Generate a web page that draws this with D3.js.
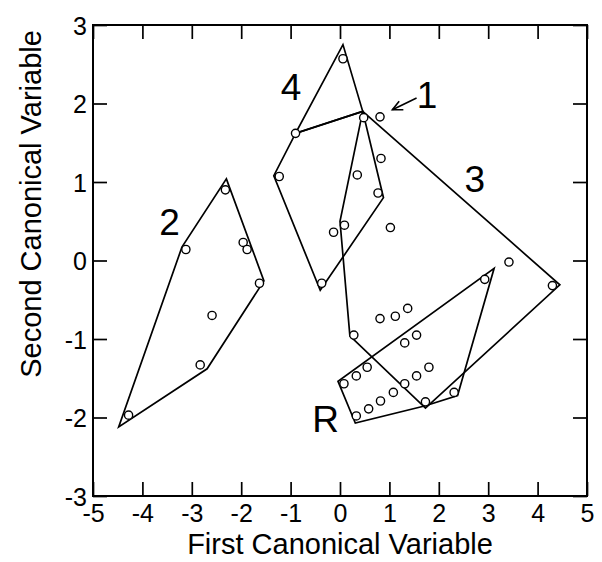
<!DOCTYPE html>
<html><head><meta charset="utf-8">
<script src="https://cdn.jsdelivr.net/npm/d3@7"></script>
<style>
body{margin:0;background:#fff}
svg{display:block}
text{font-family:"Liberation Sans",Arial,sans-serif;fill:#000}
</style>
</head><body>
<svg id="c" width="602" height="562"></svg>
<script>
// ---- data ----
const xTicks = [-5,-4,-3,-2,-1,0,1,2,3,4,5];
const yTicks = [-3,-2,-1,0,1,2,3];
const xTitle = "First Canonical Variable";
const yTitle = "Second Canonical Variable";

const group1Points = [[-1.23,1.07],[0.35,1.09],[0.77,0.86],[0.09,0.45],[-0.13,0.36],[-0.37,-0.29]];
const group1Hull   = [[-0.90,1.62],[0.46,1.90],[0.88,0.80],[-0.40,-0.38],[-1.34,1.08]];

const group2Points = [[-2.32,0.90],[-3.12,0.14],[-1.96,0.23],[-1.88,0.14],[-1.63,-0.29],[-2.59,-0.70],[-2.83,-1.33],[-4.28,-1.97]];
const group2Hull   = [[-2.30,1.04],[-1.54,-0.26],[-2.69,-1.38],[-4.48,-2.12],[-3.20,0.17]];

const group3Points = [[0.81,1.83],[0.83,1.30],[1.02,0.42],[3.42,-0.02],[4.30,-0.32],[0.28,-0.95],[0.81,-0.74],[1.12,-0.71],[1.37,-0.61],[1.73,-1.80]];
const group3Hull   = [[0.46,1.90],[4.45,-0.31],[1.73,-1.88],[0.20,-0.96],[0.00,0.50]];

const group4Points = [[0.06,2.57],[-0.90,1.62],[0.48,1.82]];
const group4Hull   = [[0.06,2.75],[0.46,1.90],[-0.90,1.62]];

const groupRPoints = [[0.08,-1.57],[0.33,-1.47],[0.55,-1.36],[0.33,-1.98],[0.58,-1.89],[0.82,-1.79],[1.08,-1.68],[1.31,-1.57],[1.55,-1.47],[1.80,-1.36],[2.31,-1.68],[2.93,-0.24],[1.31,-1.05],[1.55,-0.95]];
const groupRHull   = [[-0.04,-1.54],[0.31,-2.07],[1.73,-1.85],[2.38,-1.72],[3.12,-0.10]];

const groupLabels = ["1","2","3","4","R"];
const groupLabelAt = [[1.76,1.94],[-3.45,0.32],[2.73,0.87],[-0.99,2.04],[-0.29,-2.18]];
const arrowFrom = [1.55,2.07];
const arrowTo   = [1.06,1.92];

// ---- layout ----
const svg = d3.select("#c");
const L = 93, R = 587, T = 25, B = 496;
const x = d3.scaleLinear().domain([-5,5]).range([L,R]);
const y = d3.scaleLinear().domain([-3,3]).range([B,T]);
const tickLen = 14;
const fontTick = 25, fontTitle = 29, fontLab = 37;

// axes (inward ticks on all sides)
const gB = svg.append("g").attr("transform",`translate(0,${B})`)
  .call(d3.axisBottom(x).tickValues(xTicks).tickSize(-tickLen).tickPadding(8).tickFormat(d=>d<0?"-"+Math.abs(d):d));
const gT = svg.append("g").attr("transform",`translate(0,${T})`)
  .call(d3.axisTop(x).tickValues(xTicks).tickSize(-tickLen).tickFormat(""));
const gL = svg.append("g").attr("transform",`translate(${L},0)`)
  .call(d3.axisLeft(y).tickValues(yTicks).tickSize(-tickLen).tickPadding(6).tickFormat(d=>d<0?"-"+Math.abs(d):d));
const gR = svg.append("g").attr("transform",`translate(${R},0)`)
  .call(d3.axisRight(y).tickValues(yTicks).tickSize(-tickLen).tickFormat(""));

[gB,gT,gL,gR].forEach(g=>{
  g.select(".domain").remove();
  g.selectAll(".tick line").attr("stroke","#000").attr("stroke-width",1.7);
  g.selectAll("text").attr("font-size",fontTick).attr("font-family","'Liberation Sans',Arial,sans-serif").attr("fill","#000");
});
gB.selectAll("text").attr("dy","0.71em");
gL.selectAll("text").attr("dy","0.36em");

svg.append("rect").attr("x",L).attr("y",T).attr("width",R-L).attr("height",B-T)
  .attr("fill","none").attr("stroke","#000").attr("stroke-width",2);

// titles
svg.append("text").attr("x",(L+R)/2).attr("y",554).attr("text-anchor","middle")
  .attr("font-size",fontTitle).text(xTitle);
svg.append("text").attr("transform",`translate(41,${y(0.72)}) rotate(-90)`).attr("text-anchor","middle")
  .attr("font-size",fontTitle).text(yTitle);

// hulls
const line = d3.line().x(d=>x(d[0])).y(d=>y(d[1]));
[group1Hull,group2Hull,group3Hull,group4Hull,groupRHull].forEach(h=>{
  svg.append("path").attr("d",line(h)+"Z").attr("fill","none").attr("stroke","#000")
    .attr("stroke-width",1.7).attr("stroke-linejoin","miter");
});

// points
const allPts = [].concat(group1Points,group2Points,group3Points,group4Points,groupRPoints);
svg.append("g").selectAll("circle").data(allPts).join("circle")
  .attr("cx",d=>x(d[0])).attr("cy",d=>y(d[1])).attr("r",4.1)
  .attr("fill","#fff").attr("stroke","#000").attr("stroke-width",1.4);

// group labels
svg.append("g").selectAll("text").data(groupLabels).join("text")
  .attr("x",(d,i)=>x(groupLabelAt[i][0])).attr("y",(d,i)=>y(groupLabelAt[i][1]))
  .attr("text-anchor","middle").attr("font-size",fontLab).text(d=>d);

// arrow for label 1
const ax1=x(arrowFrom[0]), ay1=y(arrowFrom[1]), ax2=x(arrowTo[0]), ay2=y(arrowTo[1]);
svg.append("line").attr("x1",ax1).attr("y1",ay1).attr("x2",ax2).attr("y2",ay2)
  .attr("stroke","#000").attr("stroke-width",1.6);
const ang = Math.atan2(ay1-ay2, ax1-ax2), hl = 11, spread = 0.45;
svg.append("path")
  .attr("d",`M${ax2+hl*Math.cos(ang+spread)},${ay2+hl*Math.sin(ang+spread)}L${ax2},${ay2}L${ax2+hl*Math.cos(ang-spread)},${ay2+hl*Math.sin(ang-spread)}`)
  .attr("fill","none").attr("stroke","#000").attr("stroke-width",1.6);
</script>
</body></html>
